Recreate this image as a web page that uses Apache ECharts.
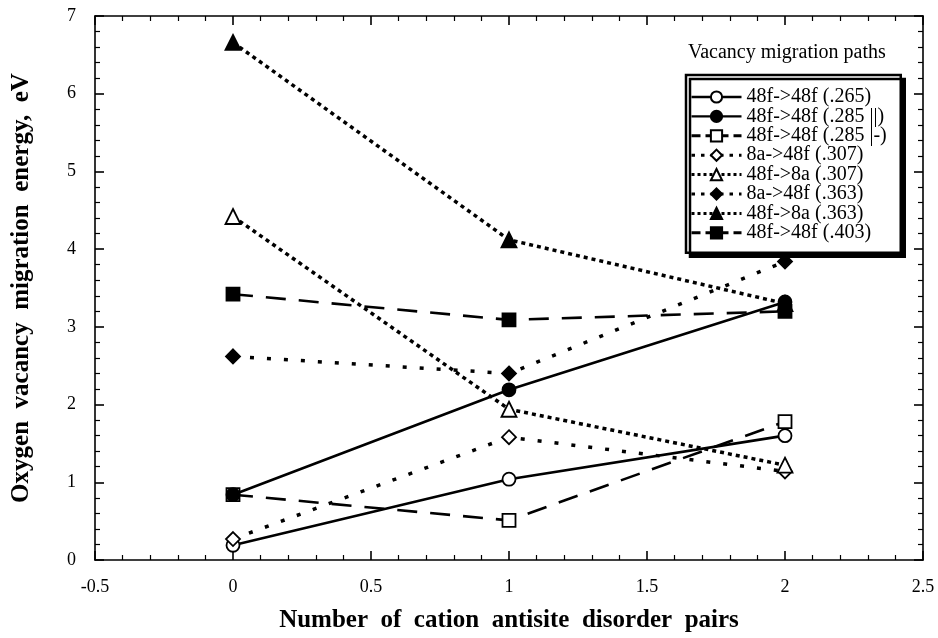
<!DOCTYPE html>
<html>
<head>
<meta charset="utf-8">
<script src="https://cdn.jsdelivr.net/npm/echarts@6/dist/echarts.min.js"></script>
<style>
html,body{margin:0;padding:0;background:#fff;}
#chart{width:938px;height:638px;}
</style>
</head>
<body>
<div id="chart"></div>
<script>
// ---- data ----
var xCategories = [0, 1, 2];
var seriesNames = [
  '48f->48f (.265)',
  '48f->48f (.285 ||)',
  '48f->48f (.285 |-)',
  '8a->48f (.307)',
  '48f->8a (.307)',
  '8a->48f (.363)',
  '48f->8a (.363)',
  '48f->48f (.403)'
];
var v265      = [0.19, 1.04, 1.60];
var v285par   = [0.84, 2.19, 3.32];
var v285perp  = [0.84, 0.51, 1.78];
var v307a     = [0.27, 1.58, 1.14];
var v307b     = [4.42, 1.94, 1.22];
var v363a     = [2.62, 2.40, 3.84];
var v363b     = [6.66, 4.12, 3.30];
var v403      = [3.42, 3.09, 3.20];
var xTicks = [-0.5, 0, 0.5, 1, 1.5, 2, 2.5];
var yTicks = [0, 1, 2, 3, 4, 5, 6, 7];
var xTitle = 'Number  of  cation  antisite  disorder  pairs';
var yTitle = 'Oxygen  vacancy  migration  energy,  eV';
var legendTitle = 'Vacancy migration paths';

var FONT = '"Liberation Serif", "Times New Roman", serif';

function pts(vals) {
  return xCategories.map(function (x, i) { return [x, vals[i]]; });
}

var DASH = [20, 13], SPARSE = [4, 13], DENSE = [4, 4];
var LDASH = [9, 5], LSPARSE = [3.5, 6], LDENSE = [3, 3];

function mk(name, vals, symbol, filled, dash, width, z) {
  return {
    name: name,
    type: 'line',
    data: pts(vals),
    symbol: symbol,
    symbolSize: symbol === 'triangle' ? 15 : (symbol === 'diamond' ? 14 : 13),
    z: z,
    itemStyle: {
      color: filled ? '#000' : '#fff',
      borderColor: '#000',
      borderWidth: 1.8
    },
    lineStyle: {
      color: '#000',
      width: width,
      type: dash
    },
    emphasis: { disabled: true }
  };
}

var series = [
  mk(seriesNames[0], v265, 'circle', false, 'solid', 2.6, 3),
  mk(seriesNames[1], v285par, 'circle', true, 'solid', 2.6, 4),
  mk(seriesNames[2], v285perp, 'rect', false, DASH, 2.6, 2),
  mk(seriesNames[3], v307a, 'diamond', false, SPARSE, 3.5, 3),
  mk(seriesNames[4], v307b, 'triangle', false, DENSE, 3.5, 3),
  mk(seriesNames[5], v363a, 'diamond', true, SPARSE, 3.5, 4),
  mk(seriesNames[6], v363b, 'triangle', true, DENSE, 3.5, 3),
  mk(seriesNames[7], v403, 'rect', true, DASH, 2.6, 4)
];

var legendDash = ['solid', 'solid', LDASH, LSPARSE, LDENSE, LSPARSE, LDENSE, LDASH];
var legendData = seriesNames.map(function (n, i) {
  return { name: n, lineStyle: { type: legendDash[i], width: i === 0 || i === 1 ? 2.4 : 3 } };
});

function axisCommon(min, max, interval, minorSplit) {
  return {
    type: 'value',
    min: min,
    max: max,
    interval: interval,
    axisLine: { show: true, onZero: false, lineStyle: { color: '#000', width: 1.6 } },
    axisTick: { show: true, inside: true, length: 9, lineStyle: { color: '#000', width: 1.6 } },
    minorTick: { show: true, splitNumber: minorSplit, length: 5, lineStyle: { color: '#000', width: 1.2 } },
    splitLine: { show: false },
    minorSplitLine: { show: false }
  };
}

var xMain = axisCommon(xTicks[0], xTicks[xTicks.length - 1], 0.5, 5);
xMain.position = 'bottom';
xMain.axisLabel = { show: true, margin: 18, fontFamily: FONT, fontSize: 18, color: '#000' };
xMain.name = xTitle;
xMain.nameLocation = 'middle';
xMain.nameGap = 48;
xMain.nameTextStyle = { fontFamily: FONT, fontSize: 25, fontWeight: 'bold', color: '#000' };

var xTop = axisCommon(xTicks[0], xTicks[xTicks.length - 1], 0.5, 5);
xTop.position = 'top';
xTop.axisLabel = { show: false };

var yMain = axisCommon(yTicks[0], yTicks[yTicks.length - 1], 1, 5);
yMain.position = 'left';
yMain.axisLabel = { show: true, margin: 19, fontFamily: FONT, fontSize: 18, color: '#000' };
yMain.name = yTitle;
yMain.nameLocation = 'middle';
yMain.nameGap = 61;
yMain.nameTextStyle = { fontFamily: FONT, fontSize: 25, fontWeight: 'bold', color: '#000' };

var yRight = axisCommon(yTicks[0], yTicks[yTicks.length - 1], 1, 5);
yRight.position = 'right';
yRight.axisLabel = { show: false };

var chart = echarts.init(document.getElementById('chart'), null, { renderer: 'canvas' });
chart.setOption({
  animation: false,
  backgroundColor: '#fff',
  title: {
    text: legendTitle,
    left: 688,
    top: 43,
    padding: 0,
    textStyle: { fontFamily: FONT, fontSize: 20, fontWeight: 'normal', color: '#000' }
  },
  grid: { left: 95, right: 15, top: 16, bottom: 63, containLabel: false },
  xAxis: [xMain, xTop],
  yAxis: [yMain, yRight],
  legend: {
    orient: 'vertical',
    left: 686,
    top: 75,
    z: 10,
    data: legendData,
    backgroundColor: '#fff',
    borderColor: '#000',
    borderWidth: 2.5,
    shadowColor: '#000',
    shadowBlur: 0,
    shadowOffsetX: 4,
    shadowOffsetY: 4,
    padding: [12, 14, 10, 4],
    itemWidth: 50,
    itemHeight: 14,
    itemGap: -0.6,
    selectedMode: false,
    textStyle: { fontFamily: FONT, fontSize: 20, color: '#000' }
  },
  series: series
});
</script>
</body>
</html>
